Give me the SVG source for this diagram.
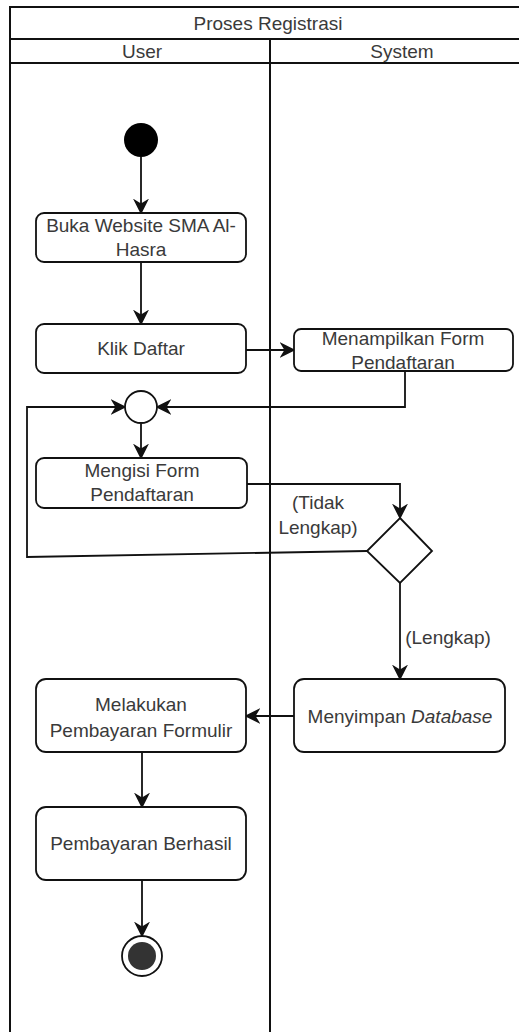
<svg xmlns="http://www.w3.org/2000/svg" width="519" height="1032" viewBox="0 0 519 1032">
<style>
.lane{fill:none;stroke:#111;stroke-width:2}
.box{fill:#fff;stroke:#111;stroke-width:1.8}
.t{font-family:"Liberation Sans",Arial,sans-serif;font-size:19px;fill:#3a3a3a;text-anchor:middle}
.c{fill:none;stroke:#111;stroke-width:1.8}
</style>
<defs>
<marker id="ahb" viewBox="0 0 10 10" refX="9" refY="5" markerWidth="16" markerHeight="16" markerUnits="userSpaceOnUse" orient="auto">
<path d="M0,0 L10,5 L0,10 L3,5 Z" fill="#111"/>
</marker>
</defs>
<g id="pool">
<rect class="lane" x="10" y="7" width="540" height="1040" fill="#fff"/>
<line class="lane" x1="10" y1="39" x2="550" y2="39"/>
<line class="lane" x1="10" y1="63" x2="550" y2="63"/>
<line class="lane" x1="270" y1="39" x2="270" y2="1047"/>
<text class="t" x="268" y="30">Proses Registrasi</text>
<text class="t" x="142" y="58">User</text>
<text class="t" x="402" y="58">System</text>
</g>
<g id="connectors">
<line class="c" x1="141" y1="157" x2="141" y2="213" marker-end="url(#ahb)"/>
<line class="c" x1="141" y1="262" x2="141" y2="324" marker-end="url(#ahb)"/>
<line class="c" x1="246" y1="350" x2="294" y2="350" marker-end="url(#ahb)"/>
<polyline class="c" points="405,371 405,407 157,407" marker-end="url(#ahb)"/>
<polyline class="c" points="367,551 27,557 27,407 125,407" marker-end="url(#ahb)"/>
<line class="c" x1="141" y1="424" x2="141" y2="458" marker-end="url(#ahb)"/>
<polyline class="c" points="247,484 400,484 400,518" marker-end="url(#ahb)"/>
<line class="c" x1="400" y1="583" x2="400" y2="679" marker-end="url(#ahb)"/>
<line class="c" x1="294" y1="716" x2="246" y2="716" marker-end="url(#ahb)"/>
<line class="c" x1="142" y1="752" x2="142" y2="807" marker-end="url(#ahb)"/>
<line class="c" x1="142" y1="880" x2="142" y2="936" marker-end="url(#ahb)"/>
<text class="t" x="318" y="509">(Tidak</text>
<text class="t" x="318" y="534">Lengkap)</text>
<text class="t" x="448" y="644">(Lengkap)</text>
</g>
<g id="start"><circle cx="141" cy="140" r="17" fill="#000"/></g>
<g id="buka">
<rect class="box" x="36" y="213" width="210" height="49" rx="8"/>
<text class="t" x="141" y="232">Buka Website SMA Al-</text>
<text class="t" x="141" y="256">Hasra</text>
</g>
<g id="klik">
<rect class="box" x="36" y="324" width="210" height="49" rx="8"/>
<text class="t" x="141" y="355">Klik Daftar</text>
</g>
<g id="menampilkan">
<rect class="box" x="294" y="329" width="219" height="42" rx="7"/>
<text class="t" x="403" y="345">Menampilkan Form</text>
<text class="t" x="403" y="369">Pendaftaran</text>
</g>
<g id="merge"><circle class="box" cx="141" cy="407" r="16"/></g>
<g id="mengisi">
<rect class="box" x="36" y="458" width="211" height="50" rx="8"/>
<text class="t" x="142" y="477">Mengisi Form</text>
<text class="t" x="142" y="501">Pendaftaran</text>
</g>
<g id="decision"><polygon class="box" points="400,518 432,551 400,583 367,551"/></g>
<g id="menyimpan">
<rect class="box" x="294" y="679" width="211" height="73" rx="10"/>
<text class="t" x="400" y="723">Menyimpan <tspan font-style="italic">Database</tspan></text>
</g>
<g id="melakukan">
<rect class="box" x="36" y="679" width="210" height="73" rx="10"/>
<text class="t" x="141" y="711">Melakukan</text>
<text class="t" x="141" y="737">Pembayaran Formulir</text>
</g>
<g id="berhasil">
<rect class="box" x="36" y="807" width="210" height="73" rx="10"/>
<text class="t" x="141" y="850">Pembayaran Berhasil</text>
</g>
<g id="end">
<circle cx="142" cy="956" r="20" fill="#fff" stroke="#111" stroke-width="1.8"/>
<circle cx="142" cy="956" r="14" fill="#333"/>
</g>
</svg>
